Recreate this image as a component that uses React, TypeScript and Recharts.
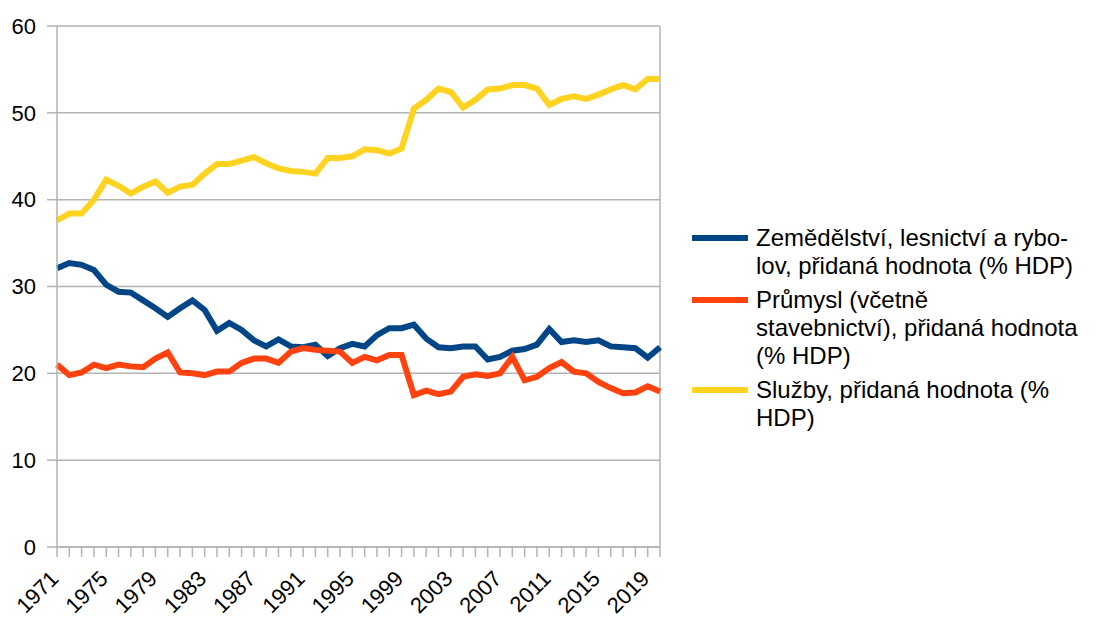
import { CartesianGrid, Line, LineChart, ReferenceLine, XAxis, YAxis } from "recharts";

// years 1971–2020, one point per year
const YEARS = [
  1971, 1972, 1973, 1974, 1975, 1976, 1977, 1978, 1979, 1980,
  1981, 1982, 1983, 1984, 1985, 1986, 1987, 1988, 1989, 1990,
  1991, 1992, 1993, 1994, 1995, 1996, 1997, 1998, 1999, 2000,
  2001, 2002, 2003, 2004, 2005, 2006, 2007, 2008, 2009, 2010,
  2011, 2012, 2013, 2014, 2015, 2016, 2017, 2018, 2019, 2020,
];

const AGRICULTURE = [
  32.1, 32.7, 32.5, 31.9, 30.2, 29.4, 29.3, 28.4, 27.5, 26.5,
  27.5, 28.4, 27.3, 24.9, 25.8, 25.0, 23.8, 23.1, 23.9, 23.1,
  23.0, 23.3, 22.0, 22.9, 23.4, 23.1, 24.4, 25.2, 25.2, 25.6,
  24.0, 23.0, 22.9, 23.1, 23.1, 21.6, 21.9, 22.6, 22.8, 23.3,
  25.1, 23.6, 23.8, 23.6, 23.8, 23.1, 23.0, 22.9, 21.8, 23.0,
];

const INDUSTRY = [
  21.0, 19.8, 20.1, 21.0, 20.6, 21.0, 20.8, 20.7, 21.7, 22.4,
  20.1, 20.0, 19.8, 20.2, 20.2, 21.2, 21.7, 21.7, 21.2, 22.5,
  22.9, 22.7, 22.6, 22.5, 21.2, 21.9, 21.5, 22.1, 22.1, 17.5,
  18.0, 17.6, 17.9, 19.6, 19.9, 19.7, 20.0, 21.9, 19.2, 19.6,
  20.6, 21.3, 20.2, 20.0, 19.0, 18.3, 17.7, 17.8, 18.5, 17.9,
];

const SERVICES = [
  37.6, 38.4, 38.4, 40.0, 42.3, 41.6, 40.7, 41.5, 42.1, 40.8,
  41.5, 41.7, 43.0, 44.1, 44.1, 44.5, 44.9, 44.2, 43.6, 43.3,
  43.2, 43.0, 44.8, 44.8, 45.0, 45.8, 45.7, 45.3, 45.9, 50.5,
  51.5, 52.8, 52.4, 50.6, 51.5, 52.7, 52.8, 53.2, 53.2, 52.8,
  50.9, 51.6, 51.9, 51.6, 52.1, 52.7, 53.2, 52.7, 53.9, 53.9,
];

const X_LABELS = [1971, 1975, 1979, 1983, 1987, 1991, 1995, 1999, 2003, 2007, 2011, 2015, 2019];
const Y_TICKS = [0, 10, 20, 30, 40, 50, 60];

const SERIES = [
  { key: "agri", color: "#004586", lines: ["Zemědělství, lesnictví a rybo-", "lov, přidaná hodnota (% HDP)"] },
  { key: "ind", color: "#ff420e", lines: ["Průmysl (včetně", "stavebnictví), přidaná hodnota", "(% HDP)"] },
  { key: "serv", color: "#ffd320", lines: ["Služby, přidaná hodnota (%", "HDP)"] },
];

const data = YEARS.map((year, i) => ({
  year,
  agri: AGRICULTURE[i],
  ind: INDUSTRY[i],
  serv: SERVICES[i],
}));

const FONT = '"Liberation Sans", Arial, sans-serif';
const GRID = "#b3b3b3";

function YearTick({ x, y, payload }: any) {
  if (!X_LABELS.includes(payload.value)) return null;
  return (
    <g transform={`translate(${x + 3},${y + 21})`}>
      <text x={0} y={0} textAnchor="end" transform="rotate(-45)" fontSize={22} fill="#000" fontFamily={FONT}>
        {payload.value}
      </text>
    </g>
  );
}

export default function App() {
  return (
    <div style={{ position: "relative", width: 1088, height: 609, fontFamily: FONT }}>
      <LineChart width={670} height={609} data={data} margin={{ top: 18, right: 18, left: 0, bottom: 10 }}>
        <CartesianGrid vertical={false} stroke={GRID} strokeWidth={1.5} />
        <XAxis
          dataKey="year"
          type="number"
          domain={[1971, 2020]}
          ticks={YEARS}
          interval={0}
          height={60}
          tickSize={10}
          axisLine={{ stroke: GRID, strokeWidth: 1.5 }}
          tickLine={{ stroke: GRID, strokeWidth: 1.5 }}
          tick={<YearTick />}
        />
        <YAxis
          domain={[0, 60]}
          ticks={Y_TICKS}
          width={49}
          tickSize={10}
          tickMargin={11}
          axisLine={{ stroke: GRID, strokeWidth: 1.5 }}
          tickLine={{ stroke: GRID, strokeWidth: 1.5 }}
          tick={{ fontSize: 22, fill: "#000", fontFamily: FONT }}
        />
        <ReferenceLine x={2020} stroke={GRID} strokeWidth={1.5} />
        {SERIES.map((s) => (
          <Line
            key={s.key}
            dataKey={s.key}
            stroke={s.color}
            strokeWidth={6}
            dot={false}
            type="linear"
            isAnimationActive={false}
          />
        ))}
      </LineChart>
      <div style={{ position: "absolute", left: 684, top: 216, fontSize: 24, lineHeight: "28px", color: "#000" }}>
        {SERIES.map((s) => (
          <div key={s.key} style={{ display: "flex", marginBottom: 6 }}>
            <div style={{ width: 56, height: 6, background: s.color, marginTop: 11, marginRight: 8, flexShrink: 0 }} />
            <div>
              {s.lines.map((l) => (
                <div key={l} style={{ whiteSpace: "nowrap" }}>{l}</div>
              ))}
            </div>
          </div>
        ))}
      </div>
    </div>
  );
}
